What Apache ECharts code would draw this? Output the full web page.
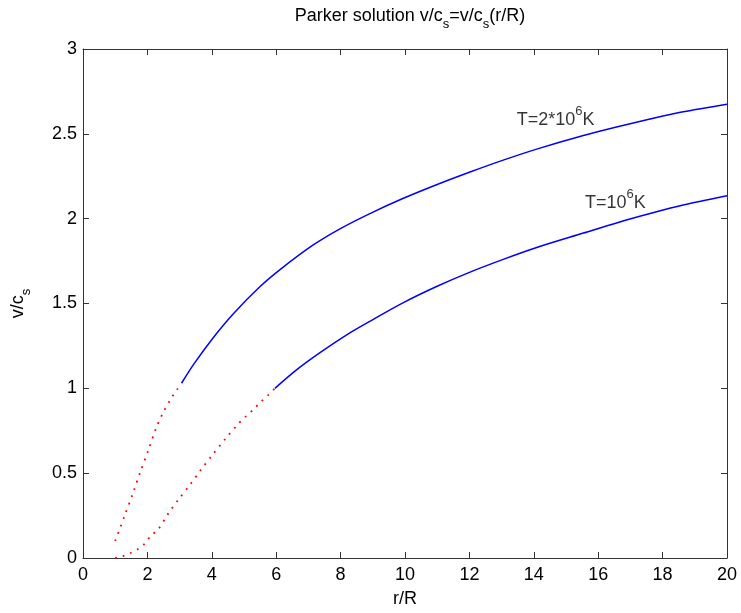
<!DOCTYPE html>
<html>
<head>
<meta charset="utf-8">
<script src="https://cdn.jsdelivr.net/npm/echarts@6/dist/echarts.min.js"></script>
<style>html,body{margin:0;padding:0;background:#fff;}#c{width:741px;height:613px;}</style>
</head>
<body>
<div id="c"></div>
<script>
// T = 2*10^6 K, subsonic (dotted red) part
const hotRedR = [1.0, 1.28, 1.54, 1.78, 2.03, 2.27, 2.47, 2.72, 2.93, 3.06];
const hotRedV = [0.10, 0.243, 0.375, 0.507, 0.636, 0.765, 0.85, 0.935, 0.995, 1.03];
// T = 2*10^6 K, supersonic (solid blue) part
const hotBlueR = [3.06, 3.43, 4.05, 4.67, 5.50, 6.12, 7.15, 7.98, 8.91, 9.95, 10.98, 12.02, 13.05, 14.09, 15.54, 16.57, 17.61, 18.64, 20];
const hotBlueV = [1.03, 1.14, 1.30, 1.44, 1.60, 1.70, 1.845, 1.94, 2.03, 2.12, 2.20, 2.275, 2.345, 2.41, 2.49, 2.54, 2.587, 2.63, 2.675];
// T = 10^6 K, subsonic (dotted red) part
const coolRedR = [1.0, 1.22, 1.46, 1.70, 1.93, 2.10, 2.34, 2.65, 2.98, 3.34, 3.66, 4.03, 4.41, 4.80, 5.05, 5.29, 5.51, 5.76, 5.96];
const coolRedV = [0.0, 0.01, 0.028, 0.051, 0.087, 0.13, 0.17, 0.263, 0.348, 0.436, 0.52, 0.61, 0.70, 0.786, 0.833, 0.875, 0.918, 0.962, 1.0];
// T = 10^6 K, supersonic (solid blue) part
const coolBlueR = [5.96, 6.64, 7.36, 8.19, 8.91, 9.95, 10.98, 12.02, 13.05, 14.09, 15.54, 16.57, 17.61, 18.64, 20];
const coolBlueV = [1.00, 1.11, 1.21, 1.315, 1.395, 1.505, 1.60, 1.685, 1.76, 1.83, 1.915, 1.975, 2.03, 2.08, 2.135];
// curve labels
const labelText = ['{a|T=2*10}{s|6}{a|K}', '{a|T=10}{s|6}{a|K}'];
const labelR = [13.47, 15.59];
const labelV = [2.60, 2.11];

const FONT = 'Liberation Sans, Arial, sans-serif';
const pairs = (r, v) => r.map((x, i) => [x, v[i]]);
const axisCol = '#333';
const supRich = {
  a: {fontFamily: FONT, fontSize: 18, color: '#000', fontWeight: 'normal', lineHeight: 24, verticalAlign: 'bottom'},
  s: {fontFamily: FONT, fontSize: 13, color: '#000', fontWeight: 'normal', lineHeight: 13, verticalAlign: 'top'}
};
const subRich = {
  a: {fontFamily: FONT, fontSize: 18, color: '#000', fontWeight: 'normal', lineHeight: 24, verticalAlign: 'top'},
  s: {fontFamily: FONT, fontSize: 13, color: '#000', fontWeight: 'normal', lineHeight: 13, verticalAlign: 'bottom'}
};

const chart = echarts.init(document.getElementById('c'), null, {renderer: 'canvas'});
const baseAxis = {
  axisLine: {show: true, onZero: false, lineStyle: {color: axisCol, width: 1}},
  axisTick: {show: true, inside: true, length: 6, lineStyle: {color: axisCol}},
  splitLine: {show: false}
};
const lineBase = {type: 'line', showSymbol: false, smooth: 0.3, silent: true};
chart.setOption({
  animation: false,
  backgroundColor: '#fff',
  title: {
    text: '{a|Parker solution v/c}{s|s}{a|=v/c}{s|s}{a|(r/R)}',
    left: 405, top: 2, textAlign: 'center',
    textStyle: {fontWeight: 'normal', color: '#000', rich: subRich}
  },
  grid: {left: 83, top: 49, right: 14, bottom: 55},
  xAxis: [
    Object.assign({}, baseAxis, {
      type: 'value', min: 0, max: 20, interval: 2, position: 'bottom',
      name: 'r/R', nameLocation: 'middle', nameGap: 32,
      nameTextStyle: {fontFamily: FONT, fontSize: 18, color: '#000'},
      axisLabel: {fontFamily: FONT, fontSize: 18, color: '#000', margin: 8}
    }),
    Object.assign({}, baseAxis, {
      type: 'value', min: 0, max: 20, interval: 2, position: 'top',
      axisLabel: {show: false}
    })
  ],
  yAxis: [
    Object.assign({}, baseAxis, {
      type: 'value', min: 0, max: 3, interval: 0.5, position: 'left',
      name: '{a|v/c}{s|s}', nameLocation: 'middle', nameGap: 50, nameRotate: 90,
      nameTextStyle: {color: '#000', rich: subRich},
      axisLabel: {fontFamily: FONT, fontSize: 18, color: '#000', margin: 6}
    }),
    Object.assign({}, baseAxis, {
      type: 'value', min: 0, max: 3, interval: 0.5, position: 'right',
      axisLabel: {show: false}
    })
  ],
  series: [
    Object.assign({}, lineBase, {data: pairs(hotRedR, hotRedV),
     lineStyle: {color: '#ff0000', width: 1.8, type: [1.8, 6]}}),
    Object.assign({}, lineBase, {data: pairs(coolRedR, coolRedV),
     lineStyle: {color: '#ff0000', width: 1.8, type: [1.8, 6]}}),
    Object.assign({}, lineBase, {data: pairs(hotBlueR, hotBlueV),
     lineStyle: {color: '#0000ff', width: 1.5}}),
    Object.assign({}, lineBase, {data: pairs(coolBlueR, coolBlueV),
     lineStyle: {color: '#0000ff', width: 1.5}}),
    {type: 'scatter', symbolSize: 0, silent: true,
     data: labelR.map((r, i) => ({value: [r, labelV[i]], label: {formatter: labelText[i]}})),
     label: {show: true, position: 'right', distance: 0, color: '#000', rich: supRich}}
  ]
});
</script>
</body>
</html>
